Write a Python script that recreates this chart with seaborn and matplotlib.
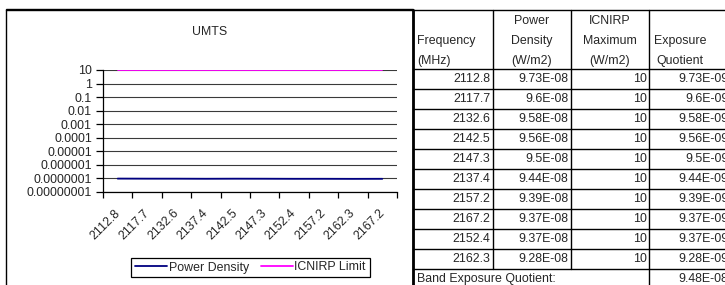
import matplotlib
matplotlib.use('Agg')
import matplotlib.pyplot as plt
import matplotlib.transforms as mtransforms
import seaborn as sns
import pandas as pd
import numpy as np
from matplotlib.lines import Line2D
from matplotlib.patches import Rectangle
from matplotlib.ticker import FixedLocator, NullFormatter, NullLocator, FixedFormatter

# ---------------- data ----------------
categories = ['2112.8', '2117.7', '2132.6', '2137.4', '2142.5',
              '2147.3', '2152.4', '2157.2', '2162.3', '2167.2']
power_density = [9.73e-08, 9.6e-08, 9.58e-08, 9.44e-08, 9.56e-08,
                 9.5e-08, 9.37e-08, 9.39e-08, 9.28e-08, 9.37e-08]
icnirp_limit = [10, 10, 10, 10, 10, 10, 10, 10, 10, 10]
y_ticks = [10, 1, 0.1, 0.01, 0.001, 0.0001, 0.00001, 0.000001, 0.0000001, 0.00000001]
y_tick_labels = ['10', '1', '0.1', '0.01', '0.001', '0.0001', '0.00001',
                 '0.000001', '0.0000001', '0.00000001']

table_header = [['Frequency', '(MHz)'], ['Power', 'Density', '(W/m2)'],
                ['ICNIRP', 'Maximum', '(W/m2)'], ['Exposure', 'Quotient']]
table_freq = ['2112.8', '2117.7', '2132.6', '2142.5', '2147.3',
              '2137.4', '2157.2', '2167.2', '2152.4', '2162.3']
table_pd = ['9.73E-08', '9.6E-08', '9.58E-08', '9.56E-08', '9.5E-08',
            '9.44E-08', '9.39E-08', '9.37E-08', '9.37E-08', '9.28E-08']
table_max = ['10', '10', '10', '10', '10', '10', '10', '10', '10', '10']
table_eq = ['9.73E-09', '9.6E-09', '9.58E-09', '9.56E-09', '9.5E-09',
            '9.44E-09', '9.39E-09', '9.37E-09', '9.37E-09', '9.28E-09']
band_label = 'Band Exposure Quotient:'
band_eq = '9.48E-08'

# ---------------- figure ----------------
W, H = 725, 285
sns.set_style('white')
plt.rcParams['font.family'] = ['Liberation Sans', 'DejaVu Sans']
FS = 8.9

fig = plt.figure(figsize=(W / 100, H / 100), dpi=100)
fig.patch.set_facecolor('white')


def fx(x):
    return x / W


def fy(y):
    return 1 - y / H


# chart outer frame
fig.add_artist(Rectangle((fx(6), fy(295)), fx(413) - fx(6), fy(9) - fy(295),
                         transform=fig.transFigure, fill=False,
                         edgecolor='black', lw=1.0))

ax = fig.add_axes([fx(103), fy(192), fx(397) - fx(103), fy(70) - fy(192)])

df = pd.DataFrame({
    'Frequency': categories + categories,
    'Value': power_density + icnirp_limit,
    'Series': ['Power Density'] * len(categories) + ['ICNIRP Limit'] * len(categories),
})
palette = {'Power Density': '#000080', 'ICNIRP Limit': '#FF00FF'}
sns.lineplot(data=df, x='Frequency', y='Value', hue='Series', palette=palette,
             sort=False, ax=ax, linewidth=1.3, legend=False, zorder=3)

ax.set_yscale('log')
ax.set_ylim(1e-8, 10)
ax.set_xlim(-0.5, len(categories) - 0.5)
ax.yaxis.set_major_locator(FixedLocator(y_ticks))
ax.yaxis.set_major_formatter(FixedFormatter(y_tick_labels))
ax.yaxis.set_minor_locator(NullLocator())
ax.tick_params(axis='y', which='major', direction='out', length=5, width=0.9,
               labelsize=FS, pad=3, left=True, color='black')
ax.yaxis.grid(True, color='#3a3a3a', linewidth=0.8)
ax.set_axisbelow(True)

ax.xaxis.set_major_locator(FixedLocator(np.arange(-0.5, len(categories), 1.0)))
ax.xaxis.set_major_formatter(NullFormatter())
ax.xaxis.set_minor_locator(FixedLocator(np.arange(len(categories))))
ax.xaxis.set_minor_formatter(FixedFormatter(categories))
ax.tick_params(axis='x', which='major', direction='out', length=4, width=0.9,
               bottom=True, color='black')
ax.tick_params(axis='x', which='minor', length=0, labelsize=FS, pad=11)
shift = mtransforms.ScaledTranslation(-4 / 100, 0, fig.dpi_scale_trans)
for lbl in ax.xaxis.get_minorticklabels():
    lbl.set_rotation(45)
    lbl.set_ha('right')
    lbl.set_rotation_mode('anchor')
    lbl.set_transform(lbl.get_transform() + shift)
ax.set_xlabel('')
ax.set_ylabel('')
for s in ['top', 'right']:
    ax.spines[s].set_visible(False)
for s in ['left', 'bottom']:
    ax.spines[s].set_color('black')
    ax.spines[s].set_linewidth(0.9)
ax.set_facecolor('white')

fig.text(fx(210), fy(32), 'UMTS', ha='center', va='center', fontsize=FS)

handles = [Line2D([0], [0], color=palette['Power Density'], lw=1.3),
           Line2D([0], [0], color=palette['ICNIRP Limit'], lw=1.3)]
leg = fig.legend(handles, ['Power Density', 'ICNIRP Limit'], loc='center',
                 bbox_to_anchor=(fx(250.5), fy(267.5)), ncol=2, frameon=True,
                 fancybox=False, edgecolor='black', framealpha=1,
                 fontsize=FS, handlelength=2.6, handletextpad=0.15,
                 columnspacing=0.9, borderpad=0.3)
leg.get_frame().set_linewidth(0.9)

# ---------------- table ----------------
col_edges = [413, 493, 571, 649, 731]
row_top = 10
header_bottom = 69
row_h = 20
n = len(table_freq)


def hline(y, x0, x1, lw=1.0):
    fig.add_artist(Line2D([fx(x0), fx(x1)], [fy(y), fy(y)],
                          transform=fig.transFigure, color='black', lw=lw))


def vline(x, y0, y1, lw=1.0):
    fig.add_artist(Line2D([fx(x), fx(x)], [fy(y0), fy(y1)],
                          transform=fig.transFigure, color='black', lw=lw))


hline(row_top, 6, W)
hline(header_bottom, col_edges[0], W)
for i in range(n + 1):
    hline(header_bottom + (i + 1) * row_h, col_edges[0], W)
vline(col_edges[0], row_top, H + 5, lw=2.0)
vline(col_edges[1], row_top, header_bottom + n * row_h)
vline(col_edges[2], row_top, header_bottom + n * row_h)
vline(col_edges[3], row_top, H + 5)

# header text
line_centers = [21, 41, 61]
fig.text(fx(417), fy(41), table_header[0][0], ha='left', va='center', fontsize=FS)
fig.text(fx(417), fy(61), table_header[0][1], ha='left', va='center', fontsize=FS)
for j, hdr in enumerate(table_header[1:3], start=1):
    cx = (col_edges[j] + col_edges[j + 1]) / 2
    for k, t in enumerate(hdr):
        fig.text(fx(cx), fy(line_centers[k]), t, ha='center', va='center', fontsize=FS)
for k, t in enumerate(table_header[3]):
    fig.text(fx(680), fy(line_centers[k + 1]), t, ha='center', va='center', fontsize=FS)

cols = [table_freq, table_pd, table_max, table_eq]
for i in range(n):
    yc = header_bottom + i * row_h + row_h / 2
    for j, col in enumerate(cols):
        fig.text(fx(col_edges[j + 1] - 2.5), fy(yc), col[i], ha='right',
                 va='center', fontsize=FS)
yb = header_bottom + n * row_h + row_h / 2
fig.text(fx(417), fy(yb), band_label, ha='left', va='center', fontsize=FS)
fig.text(fx(col_edges[4] - 2.5), fy(yb), band_eq, ha='right', va='center', fontsize=FS)

fig.savefig('out.png', dpi=100, facecolor='white')
